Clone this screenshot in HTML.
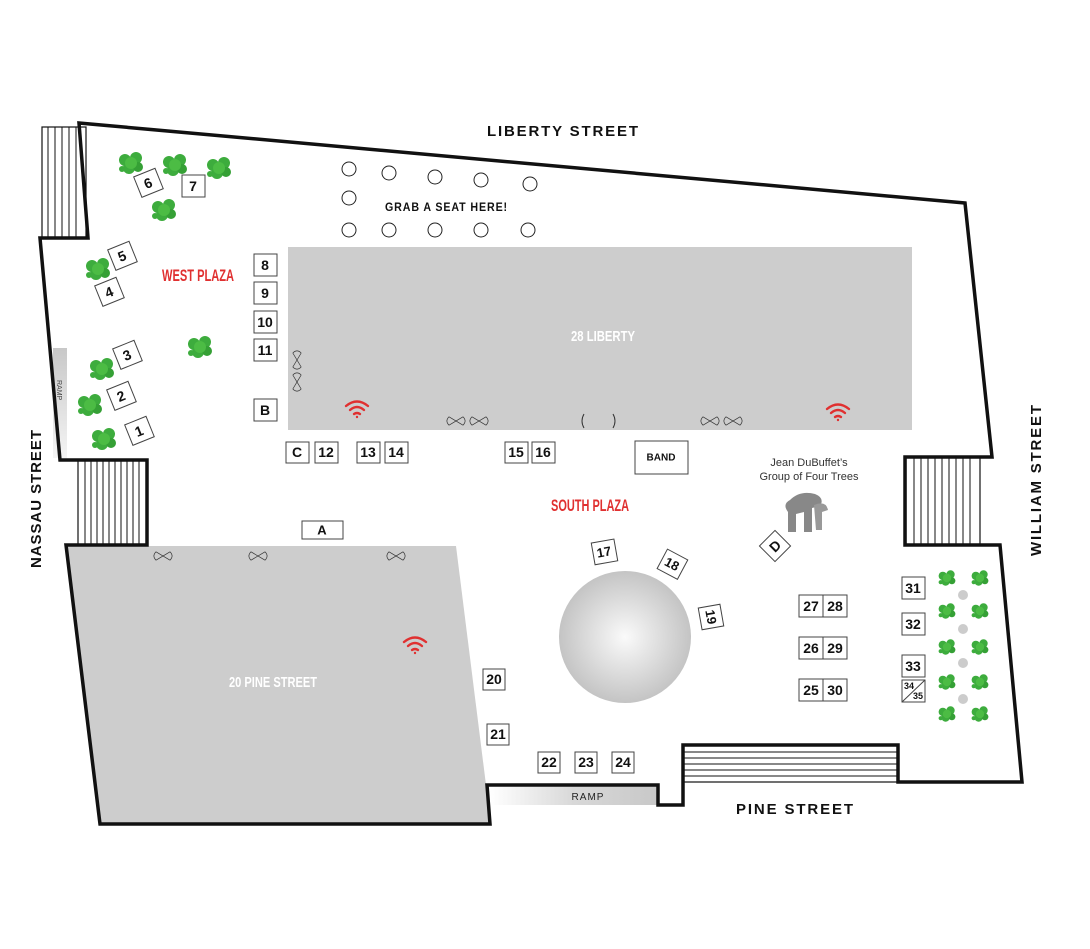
<!DOCTYPE html>
<html><head><meta charset="utf-8"><style>
html,body{margin:0;padding:0;background:#fff;}
svg{display:block;}
.st{font-family:"Liberation Sans Narrow","Liberation Sans",sans-serif;font-weight:bold;font-size:15px;fill:#111;}
.tb{font-family:"Liberation Sans",sans-serif;font-weight:bold;font-size:14px;fill:#111;text-anchor:middle;dominant-baseline:central;}
.red{font-family:"Liberation Sans Narrow","Liberation Sans",sans-serif;font-weight:bold;font-size:17px;fill:#e03030;}
.wh{font-family:"Liberation Sans Narrow","Liberation Sans",sans-serif;font-weight:bold;font-size:15px;fill:#fff;}
</style></head><body>
<svg width="1090" height="949" viewBox="0 0 1090 949" xmlns="http://www.w3.org/2000/svg">
<defs>
<radialGradient id="rg" cx="0.5" cy="0.5" r="0.5"><stop offset="0" stop-color="#fafafa"/><stop offset="1" stop-color="#c4c4c4"/></radialGradient>
<linearGradient id="ramp" x1="0" x2="1"><stop offset="0" stop-color="#fff"/><stop offset="0.5" stop-color="#d8d8d8"/><stop offset="1" stop-color="#c8c8c8"/></linearGradient>
<linearGradient id="rampv" x1="0" x2="0" y1="0" y2="1"><stop offset="0" stop-color="#c8c8c8"/><stop offset="1" stop-color="#f4f4f4"/></linearGradient>
<g id="tree"><circle cx="-6" cy="-3" r="6" fill="#3dac3d"/><circle cx="5" cy="-5" r="6" fill="#3dac3d"/><circle cx="-2" cy="5" r="6" fill="#3dac3d"/><circle cx="7" cy="4" r="5" fill="#35a035"/><circle cx="0" cy="0" r="6" fill="#4cbc44"/><circle cx="-9" cy="6" r="3" fill="#3dac3d"/></g>
<g id="bt"><path d="M-10,-6 L10,6 M-10,6 L10,-6" stroke="#333" stroke-width="1" fill="none"/><path d="M-10,-6 Q-16,0 -10,6 M10,-6 Q16,0 10,6" stroke="#333" fill="none"/></g>
<g id="wifi" fill="none" stroke="#e03030" stroke-width="2.4" stroke-linecap="round"><path d="M-11,-4 Q0,-13 11,-4"/><path d="M-7,0 Q0,-6 7,0"/><path d="M-3,4 Q0,2 3,4"/><circle cx="0" cy="7" r="1.2" fill="#e03030" stroke="none"/></g>
</defs>

<rect x="288" y="247" width="624" height="183" fill="#cdcdcd"/>
<polygon points="66,546 456,546 486,785 490,824 100,824" fill="#cdcdcd"/>
<rect x="490" y="785" width="168" height="20" fill="url(#ramp)"/>
<rect x="53" y="348" width="14" height="110" fill="url(#rampv)"/>

<g stroke="#111" stroke-width="1.2" fill="#fff">
<rect x="42" y="127" width="44" height="111"/>
<rect x="78" y="460" width="69" height="85"/>
<rect x="906" y="457" width="74" height="88"/>
<rect x="683" y="745" width="215" height="37"/>
</g>
<g stroke="#111" stroke-width="1">
<path d="M48,127V238M55,127V238M62,127V238M69,127V238M76,127V238"/>
<path d="M85,460V545M91,460V545M97,460V545M103,460V545M109,460V545M115,460V545M121,460V545M127,460V545M133,460V545M139,460V545"/>
<path d="M914,457V545M921,457V545M928,457V545M935,457V545M942,457V545M949,457V545M956,457V545M963,457V545M970,457V545"/>
<path d="M683,752H898M683,758H898M683,764H898M683,770H898M683,776H898"/>
</g>

<polygon points="79,123 965,203 992,457 905,457 905,545 1000,545 1022,782 898,782 898,745 683,745 683,805 658,805 658,785 487,785 490,824 100,824 66,545 147,545 147,460 60,460 40,238 88,238" fill="none" stroke="#111" stroke-width="3.5" stroke-linejoin="miter"/>

<circle cx="625" cy="637" r="66" fill="url(#rg)"/>

<g fill="#fff" stroke="#222" stroke-width="1">
<circle cx="349" cy="169" r="7"/><circle cx="389" cy="173" r="7"/><circle cx="435" cy="177" r="7"/><circle cx="481" cy="180" r="7"/><circle cx="530" cy="184" r="7"/>
<circle cx="349" cy="198" r="7"/>
<circle cx="349" cy="230" r="7"/><circle cx="389" cy="230" r="7"/><circle cx="435" cy="230" r="7"/><circle cx="481" cy="230" r="7"/><circle cx="528" cy="230" r="7"/>
</g>

<use href="#tree" x="131" y="163"/><use href="#tree" x="175" y="165"/><use href="#tree" x="219" y="168"/><use href="#tree" x="164" y="210"/>
<use href="#tree" x="98" y="269"/><use href="#tree" x="102" y="369"/><use href="#tree" x="90" y="405"/><use href="#tree" x="104" y="439"/><use href="#tree" x="200" y="347"/>
<g>
<use href="#tree" transform="translate(947,578) scale(0.7)"/>
<use href="#tree" transform="translate(980,578) scale(0.7)"/>
<use href="#tree" transform="translate(947,611) scale(0.7)"/>
<use href="#tree" transform="translate(980,611) scale(0.7)"/>
<use href="#tree" transform="translate(947,647) scale(0.7)"/>
<use href="#tree" transform="translate(980,647) scale(0.7)"/>
<use href="#tree" transform="translate(947,682) scale(0.7)"/>
<use href="#tree" transform="translate(980,682) scale(0.7)"/>
<use href="#tree" transform="translate(947,714) scale(0.7)"/>
<use href="#tree" transform="translate(980,714) scale(0.7)"/>
</g>
<g fill="#ccc"><circle cx="963" cy="595" r="5"/><circle cx="963" cy="629" r="5"/><circle cx="963" cy="663" r="5"/><circle cx="963" cy="699" r="5"/></g>

<g fill="#888"><path d="M790,500 Q800,490 815,494 Q825,498 820,506 L812,508 L812,532 L804,532 L804,512 L796,514 L796,532 L788,532 L788,512 Q782,504 790,500Z"/><path d="M814,505 Q826,500 828,510 L822,512 L822,530 L816,530Z" fill="#999"/></g>

<use href="#bt" transform="translate(297,360) rotate(90) scale(0.7)"/>
<use href="#bt" transform="translate(297,382) rotate(90) scale(0.7)"/>
<use href="#bt" transform="translate(456,421) scale(0.7)"/><use href="#bt" transform="translate(479,421) scale(0.7)"/>
<use href="#bt" transform="translate(710,421) scale(0.7)"/><use href="#bt" transform="translate(733,421) scale(0.7)"/>
<use href="#bt" transform="translate(163,556) scale(0.7)"/><use href="#bt" transform="translate(258,556) scale(0.7)"/><use href="#bt" transform="translate(396,556) scale(0.7)"/>
<path d="M584,414 Q580,421 584,428 M613,414 Q617,421 613,428" stroke="#333" fill="none"/>

<use href="#wifi" x="357" y="410"/><use href="#wifi" x="838" y="413"/><use href="#wifi" x="415" y="646"/>

<g fill="#fff" stroke="#444" stroke-width="1">
<rect x="254" y="254" width="23" height="22"/><rect x="254" y="282" width="23" height="22"/><rect x="254" y="311" width="23" height="22"/><rect x="254" y="339" width="23" height="22"/><rect x="254" y="399" width="23" height="22"/>
<rect x="286" y="442" width="23" height="21"/><rect x="315" y="442" width="23" height="21"/><rect x="357" y="442" width="23" height="21"/><rect x="385" y="442" width="23" height="21"/><rect x="505" y="442" width="23" height="21"/><rect x="532" y="442" width="23" height="21"/>
<rect x="635" y="441" width="53" height="33"/>
<rect x="302" y="521" width="41" height="18"/>
<rect x="182" y="175" width="23" height="22"/>
<rect x="483" y="669" width="22" height="21"/><rect x="487" y="724" width="22" height="21"/>
<rect x="538" y="752" width="22" height="21"/><rect x="575" y="752" width="22" height="21"/><rect x="612" y="752" width="22" height="21"/>
<rect x="799" y="595" width="48" height="22"/><rect x="799" y="637" width="48" height="22"/><rect x="799" y="679" width="48" height="22"/>
<path d="M823,595V617M823,637V659M823,679V701"/>
<rect x="902" y="577" width="23" height="22"/><rect x="902" y="613" width="23" height="22"/><rect x="902" y="655" width="23" height="22"/><rect x="902" y="680" width="23" height="22"/>
<path d="M902,702L925,680"/>
<rect x="-11" y="-11" width="23" height="22" transform="translate(148,183) rotate(-22)"/>
<rect x="-11" y="-11" width="23" height="22" transform="translate(122,256) rotate(-22)"/>
<rect x="-11" y="-11" width="23" height="22" transform="translate(109,292) rotate(-22)"/>
<rect x="-11" y="-11" width="23" height="22" transform="translate(127,355) rotate(-22)"/>
<rect x="-11" y="-11" width="23" height="22" transform="translate(121,396) rotate(-22)"/>
<rect x="-11" y="-11" width="23" height="22" transform="translate(139,431) rotate(-22)"/>
<rect x="-11" y="-11" width="23" height="22" transform="translate(604,552) rotate(-10)"/>
<rect x="-11" y="-11" width="23" height="22" transform="translate(672,564) rotate(28)"/>
<rect x="-11" y="-11" width="22" height="22" transform="translate(711,617) rotate(80)"/>
<rect x="-11" y="-11" width="22" height="22" transform="translate(775,546) rotate(45)"/>
</g>
<g class="tb">
<text x="265" y="265">8</text><text x="265" y="293">9</text><text x="265" y="322">10</text><text x="265" y="350">11</text><text x="265" y="410">B</text>
<text x="297" y="452">C</text><text x="326" y="452">12</text><text x="368" y="452">13</text><text x="396" y="452">14</text><text x="516" y="452">15</text><text x="543" y="452">16</text>
<text x="661" y="458" style="font-size:10px">BAND</text><text x="322" y="530" style="font-size:13px">A</text>
<text x="193" y="186">7</text>
<text x="494" y="679">20</text><text x="498" y="734">21</text><text x="549" y="762">22</text><text x="586" y="762">23</text><text x="623" y="762">24</text>
<text x="811" y="606">27</text><text x="835" y="606">28</text><text x="811" y="648">26</text><text x="835" y="648">29</text><text x="811" y="690">25</text><text x="835" y="690">30</text>
<text x="913" y="588">31</text><text x="913" y="624">32</text><text x="913" y="666">33</text>
<text x="909" y="686" style="font-size:9px">34</text><text x="918" y="696" style="font-size:9px">35</text>
<text transform="translate(148,183) rotate(-22)">6</text>
<text transform="translate(122,256) rotate(-22)">5</text>
<text transform="translate(109,292) rotate(-22)">4</text>
<text transform="translate(127,355) rotate(-22)">3</text>
<text transform="translate(121,396) rotate(-22)">2</text>
<text transform="translate(139,431) rotate(-22)">1</text>
<text transform="translate(604,552) rotate(-10)" style="font-size:13px">17</text>
<text transform="translate(672,564) rotate(28)" style="font-size:13px">18</text>
<text transform="translate(711,617) rotate(80)" style="font-size:13px">19</text>
<text transform="translate(775,546) rotate(-45)">D</text>
</g>

<text class="st" x="487" y="136" textLength="151" lengthAdjust="spacing">LIBERTY STREET</text>
<text class="st" x="736" y="814" textLength="117" lengthAdjust="spacing">PINE STREET</text>
<text class="st" transform="translate(41,568) rotate(-90)" textLength="138" lengthAdjust="spacing">NASSAU STREET</text>
<text class="st" transform="translate(1041,556) rotate(-90)" textLength="151" lengthAdjust="spacing">WILLIAM STREET</text>
<text class="red" x="162" y="281" textLength="72" lengthAdjust="spacingAndGlyphs">WEST PLAZA</text>
<text class="red" x="551" y="511" textLength="78" lengthAdjust="spacingAndGlyphs">SOUTH PLAZA</text>
<text class="wh" x="571" y="341" textLength="64" lengthAdjust="spacingAndGlyphs">28 LIBERTY</text>
<text class="wh" x="229" y="687" textLength="88" lengthAdjust="spacingAndGlyphs">20 PINE STREET</text>
<text x="385" y="211" textLength="123" lengthAdjust="spacingAndGlyphs" style="font-family:'Liberation Sans Narrow','Liberation Sans',sans-serif;font-weight:bold;font-size:12px;letter-spacing:1px;fill:#111">GRAB A SEAT HERE!</text>
<text x="809" y="466" style="font-family:'Liberation Sans',sans-serif;font-size:11px;fill:#333" text-anchor="middle">Jean DuBuffet’s</text>
<text x="809" y="480" style="font-family:'Liberation Sans',sans-serif;font-size:11px;fill:#333" text-anchor="middle">Group of Four Trees</text>
<text x="588" y="800" style="font-family:'Liberation Sans',sans-serif;font-size:10px;letter-spacing:1px;fill:#222" text-anchor="middle">RAMP</text>
<text transform="translate(57,380) rotate(90)" style="font-family:'Liberation Sans',sans-serif;font-size:7px;fill:#444">RAMP</text>
</svg>
</body></html>
